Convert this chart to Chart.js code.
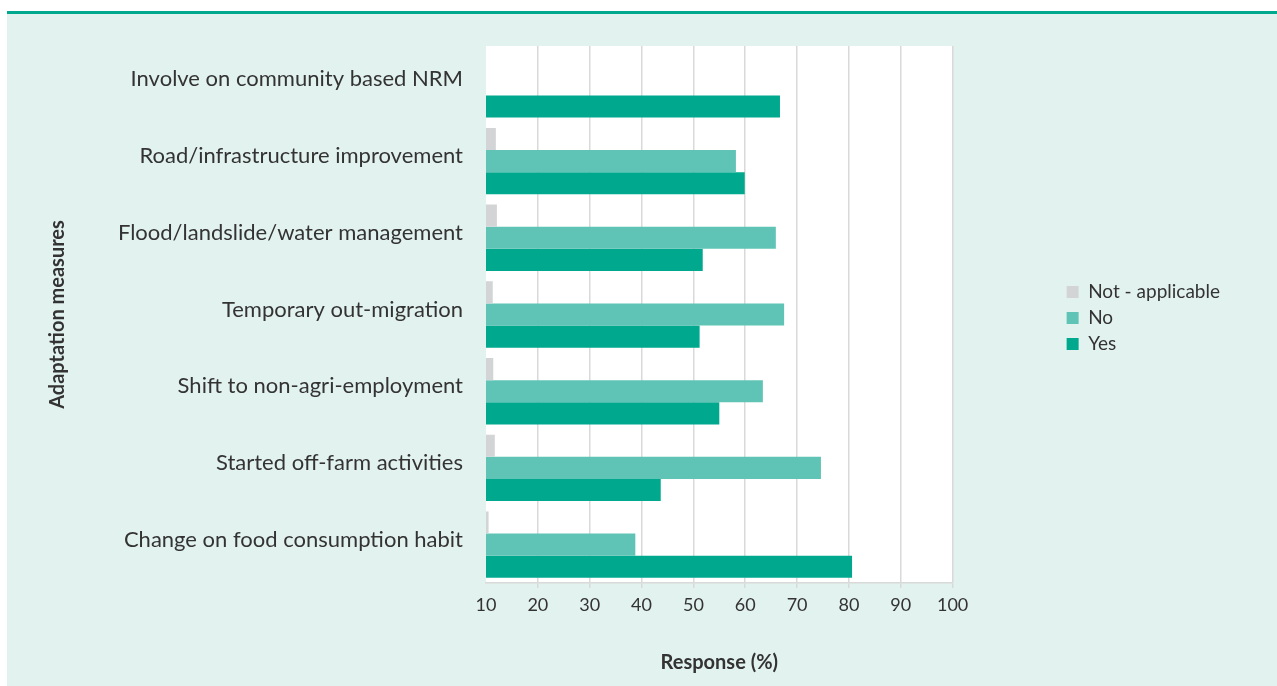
<!DOCTYPE html>
<html>
<head>
<meta charset="utf-8">
<script src="https://cdn.jsdelivr.net/npm/chart.js@4"></script>
<style>
  html, body { margin: 0; padding: 0; background: #ffffff; width: 1277px; height: 686px; overflow: hidden; }
  #panel { position: absolute; left: 7px; top: 11px; width: 1270px; height: 675px; background: #e2f2ef; border-top: 3px solid #00a88e; box-sizing: border-box; }
  #wrap { position: absolute; left: 0; top: 0; width: 1270px; height: 672px; }
</style>
</head>
<body>
<div id="panel"><div id="wrap"><canvas id="c"></canvas></div></div>
<script>
const categories = [
  "Involve on community based NRM",
  "Road/infrastructure improvement",
  "Flood/landslide/water management",
  "Temporary out-migration",
  "Shift to non-agri-employment",
  "Started off-farm activities",
  "Change on food consumption habit"
];
const notApplicable = [null, 11.9, 12.1, 11.3, 11.4, 11.7, 10.5];
const noValues      = [null, 58.2, 65.9, 67.5, 63.4, 74.6, 38.8];
const yesValues     = [66.7, 59.9, 51.8, 51.2, 55.0, 43.7, 80.6];
const seriesNames = ["Not - applicable", "No", "Yes"];
const xTickMin = 10, xTickMax = 100, xTickStep = 10;

const textColor = '#333333';
const gridColor = '#d9d9d9';

const plotBg = {
  id: 'plotBg',
  beforeDraw(chart) {
    const {ctx, chartArea: a} = chart;
    ctx.save();
    ctx.fillStyle = '#ffffff';
    ctx.fillRect(a.left, a.top, a.right - a.left, a.bottom - a.top);
    ctx.restore();
  }
};

new Chart(document.getElementById('c'), {
  type: 'bar',
  data: {
    labels: categories,
    datasets: [
      { label: seriesNames[0], data: notApplicable, backgroundColor: '#d3d4d6' },
      { label: seriesNames[1], data: noValues, backgroundColor: '#5fc4b5' },
      { label: seriesNames[2], data: yesValues, backgroundColor: '#00a88e' }
    ]
  },
  options: {
    indexAxis: 'y',
    responsive: true,
    maintainAspectRatio: false,
    animation: false,
    categoryPercentage: 0.865,
    barPercentage: 1.0,
    layout: { padding: { left: 35, top: 32, right: 47, bottom: 0 } },
    plugins: {
      tooltip: { enabled: false },
      legend: {
        position: 'right',
        align: 'center',
        fullSize: false,
        title: { display: true, text: '', padding: { top: 6, bottom: 0 }, font: { size: 1 } },
        labels: {
          boxWidth: 12, boxHeight: 12, padding: 7,
          color: textColor,
          font: { family: 'Lato', size: 19 }
        }
      }
    },
    scales: {
      x: {
        type: 'linear',
        min: xTickMin, max: xTickMax,
        ticks: { stepSize: xTickStep, color: textColor, padding: 6, font: { family: 'Lato', size: 18 } },
        grid: {
          color: (c) => (c.index === 0 ? 'rgba(0,0,0,0)' : gridColor),
          lineWidth: 1.5,
          drawTicks: true, tickLength: 5
        },
        border: { display: true, color: gridColor, width: 1.5 },
        title: { display: true, text: 'Response (%)', color: textColor, padding: { top: 0, bottom: 11 }, font: { family: 'Lato', size: 20, weight: 'bold' } },
        afterFit(s) { s.height = 103; s.paddingLeft = 0; s.paddingRight = 0; }
      },
      y: {
        type: 'category',
        ticks: { color: textColor, padding: 23, labelOffset: -5, font: { family: 'Lato', size: 22 } },
        grid: { display: false, drawTicks: false },
        border: { display: false },
        title: { display: true, text: 'Adaptation measures', color: textColor, padding: { top: 4, bottom: 0 }, font: { family: 'Lato', size: 20, weight: 'bold' } },
        afterFit(s) { s.width = 444; s.paddingTop = 0; s.paddingBottom = 0; }
      },
      gap: {
        type: 'linear',
        position: 'right',
        display: true,
        ticks: { display: false },
        grid: { display: false, drawTicks: false },
        border: { display: false },
        title: { display: false },
        afterFit(s) { s.width = 107; s.paddingTop = 0; s.paddingBottom = 0; }
      }
    }
  },
  plugins: [plotBg]
});
</script>
</body>
</html>
